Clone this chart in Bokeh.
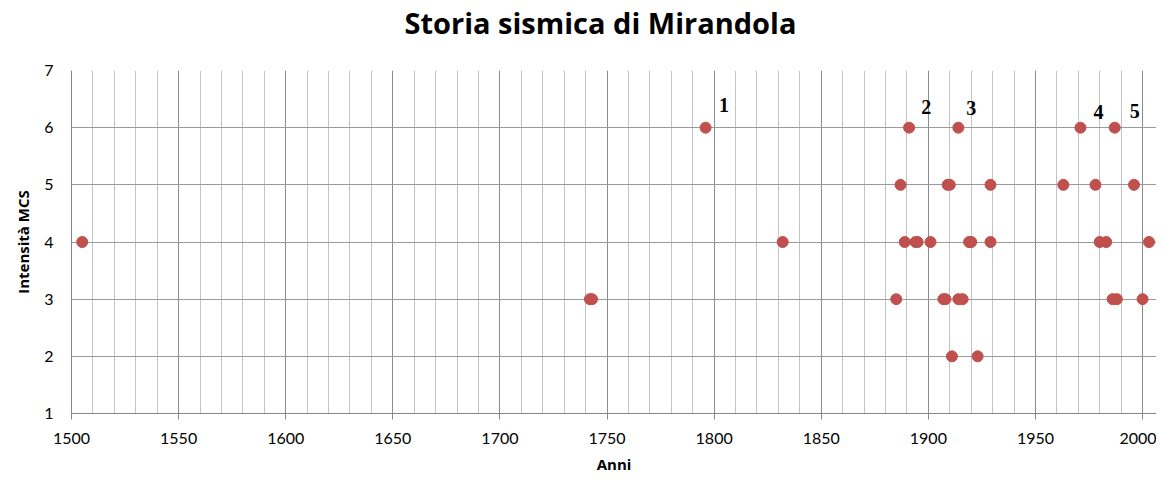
from bokeh.plotting import figure
from bokeh.models import SingleIntervalTicker, Range1d, ColumnDataSource, Title
from bokeh.core.properties import value
from bokeh.embed import file_html
from bokeh.resources import INLINE

# Data: year of the event and MCS intensity
anni = [1796, 1891, 1914, 1971, 1987,
        1887, 1909, 1910, 1929, 1963, 1978, 1996,
        1505, 1832, 1889, 1894, 1895, 1901, 1919, 1920, 1929, 1980, 1983, 2003,
        1742, 1743, 1885, 1907, 1908, 1914, 1916, 1986, 1988, 2000,
        1911, 1923]
intensita = [6, 6, 6, 6, 6,
             5, 5, 5, 5, 5, 5, 5,
             4, 4, 4, 4, 4, 4, 4, 4, 4, 4, 4, 4,
             3, 3, 3, 3, 3, 3, 3, 3, 3, 3,
             2, 2]

# Numbered annotations
etichette = ["1", "2", "3", "4", "5"]
etichette_x = [1804.6, 1899.0, 1920.0, 1979.4, 1996.3]
etichette_y = [6.40, 6.36, 6.35, 6.27, 6.29]

titolo = "Storia sismica di Mirandola"
asse_x = "Anni"
asse_y = "Intensità MCS"

FONT = "Lato"
FONT_B = "Open Sans"

p = figure(width=1156, height=479, output_backend="svg", toolbar_location=None,
           x_range=Range1d(1500, 2006.5), y_range=Range1d(1, 7),
           min_border_left=71, min_border_right=0, min_border_top=70, min_border_bottom=66)

# spacer between the frame and the title (keeps the title high)
p.add_layout(Title(text=" ", text_font_size="1px", standoff=26), "above")

p.title.text = titolo
p.title.text_font = FONT_B
p.title.text_font_size = "29px"
p.title.text_font_style = "bold"
p.title.align = "left"
p.title.offset = 333
p.title.standoff = 0
p.title.text_color = "black"

p.xaxis.ticker = SingleIntervalTicker(interval=50, num_minor_ticks=5)
p.yaxis.ticker = SingleIntervalTicker(interval=1, num_minor_ticks=0)

for ax in (p.xaxis, p.yaxis):
    ax.axis_line_color = "#868686"
    ax.major_tick_line_color = "#868686"
    ax.minor_tick_line_color = None
    ax.major_label_text_font = FONT
    ax.major_label_text_font_size = "16px"
    ax.major_label_text_color = "black"
    ax.axis_label_text_font = FONT_B
    ax.axis_label_text_font_size = "15px"
    ax.axis_label_text_font_style = "bold"
    ax.axis_label_text_color = "black"

p.xaxis.axis_label = asse_x
p.xaxis.major_tick_out = 6
p.xaxis.major_tick_in = 0
p.xaxis.major_label_standoff = 13
p.xaxis.axis_label_standoff = 7

p.yaxis.axis_label = asse_y
p.yaxis.major_tick_out = 0
p.yaxis.major_tick_in = 0
p.yaxis.major_label_standoff = 18
p.yaxis.axis_label_standoff = 8

p.xgrid.grid_line_color = "#8c8c8c"
p.xgrid.minor_grid_line_color = "#c4c4c4"
p.ygrid.grid_line_color = "#9a9a9a"
p.outline_line_color = None

src = ColumnDataSource(dict(x=anni, y=intensita))
p.scatter("x", "y", source=src, size=11, fill_color="#c0504d", line_color="#c0504d")

lab = ColumnDataSource(dict(x=etichette_x, y=etichette_y, t=etichette))
p.text("x", "y", text="t", source=lab, text_font=value("Liberation Serif"),
       text_font_style="bold", text_font_size="20px", text_align="center",
       text_baseline="middle", text_color="black")

open("out.html", "w").write(file_html(p, INLINE))
